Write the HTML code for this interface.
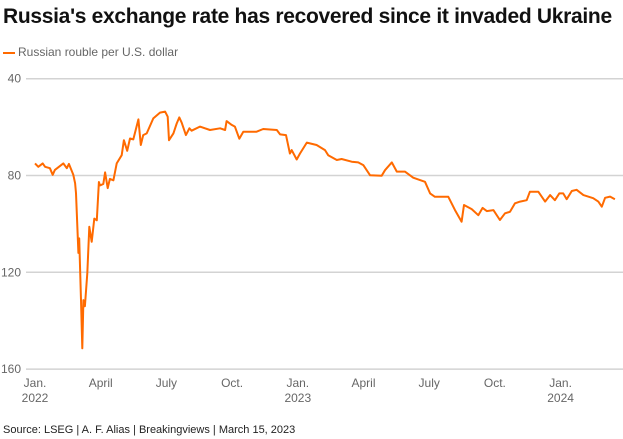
<!DOCTYPE html>
<html><head><meta charset="utf-8"><style>
body{margin:0;background:#fff;font-family:"Liberation Sans",sans-serif;}
#wrap{position:relative;width:623px;height:439px;overflow:hidden;}
.t{position:absolute;white-space:nowrap;}
</style></head><body>
<div id="wrap">
<div class="t" style="left:3px;top:5px;font-size:21px;font-weight:bold;color:#111;letter-spacing:-0.3px;">Russia's exchange rate has recovered since it invaded Ukraine</div>
<div class="t" style="left:3px;top:45px;font-size:12px;color:#666;"><span style="display:inline-block;width:12px;height:2px;background:#ff6a00;vertical-align:middle;margin-right:3px;"></span>Russian rouble per U.S. dollar</div>
<svg id="chart" width="623" height="439" style="position:absolute;left:0;top:0"></svg>
<div class="t" style="left:3px;top:424px;font-size:11px;color:#222;">Source: LSEG | A. F. Alias | Breakingviews | March 15, 2023</div>
</div>
<script>
const yTicks=[40,80,120,160];
const xTickMonths=[0,3,6,9,12,15,18,21,24];
const xTickLabels=["Jan.","April","July","Oct.","Jan.","April","July","Oct.","Jan."];
const xTickYears=["2022","","","","2023","","","","2024"];
const months=[0,0.15,0.35,0.46,0.68,0.81,0.91,1.29,1.45,1.55,1.75,1.83,1.87,1.98,2.02,2.10,2.16,2.21,2.28,2.39,2.48,2.59,2.71,2.82,2.92,2.97,3.12,3.20,3.32,3.42,3.58,3.73,3.96,4.06,4.21,4.34,4.49,4.72,4.83,4.94,5.10,5.40,5.71,5.94,6.06,6.12,6.32,6.47,6.59,6.70,6.89,7.05,7.15,7.53,7.99,8.45,8.68,8.75,8.98,9.13,9.33,9.51,10.12,10.42,11.04,11.19,11.46,11.64,11.72,11.95,12.10,12.41,12.86,13.24,13.39,13.78,14.00,14.46,14.76,14.99,15.30,15.83,15.98,16.29,16.52,16.89,17.27,17.81,18.04,18.26,18.64,18.87,19.18,19.48,19.59,19.94,20.24,20.44,20.63,20.93,21.23,21.46,21.69,21.92,22.15,22.45,22.60,22.98,23.29,23.52,23.74,23.94,24.12,24.28,24.51,24.73,25.04,25.49,25.72,25.88,26.03,26.26,26.48];
const rates=[75,76.4,75,76.4,77,79.7,77.7,75,77,75.2,79.7,83.2,87.3,112,106,131.5,151.4,131.5,134,120.4,101.2,107.4,97.8,98.5,82.7,84.1,83.5,78.7,85.2,81.4,82,75,71.6,65.4,69.8,64.7,65.1,56.8,67.4,63.3,62.6,56.4,54,53.6,55.7,65.4,62.6,58.5,56,58.2,63.3,60.5,61.5,59.8,61.2,60.5,61.2,57.5,59.1,59.8,64.8,61.9,61.9,60.8,61.2,63,63.3,70.9,69.5,73.4,70.9,66.4,67.4,69.5,71.6,73.6,73.2,74.3,74.6,75.7,79.9,80.1,77.8,74.6,78.4,78.4,80.9,82.6,87.4,88.8,88.8,88.8,94.3,99.1,92.2,93.9,96.4,93.4,94.7,94.3,98.4,95.6,95,91.5,90.8,90.2,86.7,86.7,90.8,88.1,90.2,87.4,87.4,89.8,86.4,85.9,88.1,89.4,90.8,92.9,89.2,88.7,89.8];
const NS="http://www.w3.org/2000/svg";
const svg=document.getElementById('chart');
function xs(m){return 35+m*21.9;}
function ys(v){return 78.7+(v-40)*2.42;}
function mk(tag,attrs){const e=document.createElementNS(NS,tag);for(const k in attrs)e.setAttribute(k,attrs[k]);svg.appendChild(e);return e;}
yTicks.forEach(v=>{
  const g=mk('line',{x1:26,x2:623,y1:ys(v),y2:ys(v),stroke:'#d3d3d3','stroke-width':1.5});
  
  
  const t=mk('text',{x:21,y:ys(v)+4,'text-anchor':'end','font-size':12,fill:'#666','font-family':'Liberation Sans, sans-serif'});
  t.textContent=v;
  
  
});
xTickMonths.forEach((m,i)=>{
  const t=mk('text',{x:xs(m),y:387,'text-anchor':'middle','font-size':12,fill:'#666','font-family':'Liberation Sans, sans-serif'});
  t.textContent=xTickLabels[i];
  
  
  if(xTickYears[i]){
    const y=mk('text',{x:xs(m),y:402,'text-anchor':'middle','font-size':12,fill:'#666','font-family':'Liberation Sans, sans-serif'});
    y.textContent=xTickYears[i];
    
    
  }
});
const d=months.map((m,i)=>(i?'L':'M')+xs(m).toFixed(1)+','+ys(rates[i]).toFixed(1)).join(' ');
const p=mk('path',{d:d,fill:'none',stroke:'#ff6a00','stroke-width':2,'stroke-linejoin':'round'});


</script>
</body></html>
